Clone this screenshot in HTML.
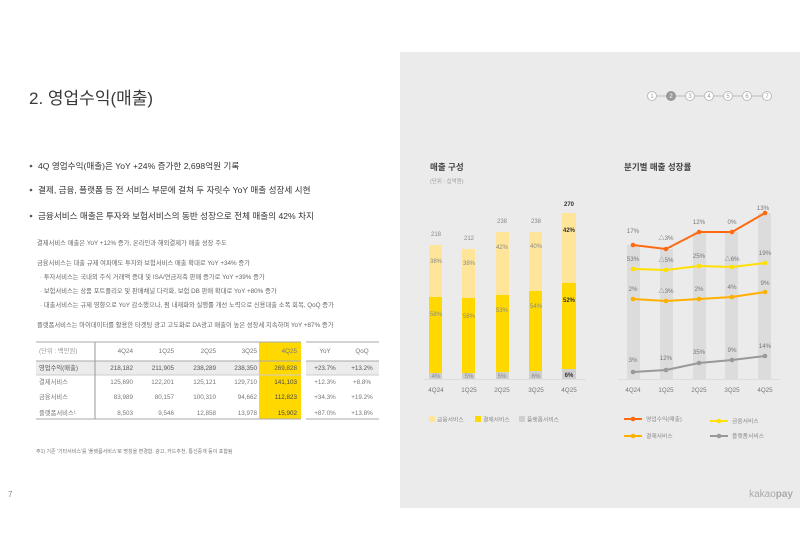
<!DOCTYPE html>
<html><head><meta charset="utf-8"><style>
html,body{margin:0;padding:0;background:#fff}
svg{display:block}
text{font-family:"Liberation Sans","Noto Sans CJK KR",sans-serif}
</style></head><body>
<svg width="800" height="560" viewBox="0 0 800 560" xmlns="http://www.w3.org/2000/svg">
<rect x="400" y="52" width="400" height="456" fill="#ebebeb"/>
<text x="29" y="104" font-size="17" fill="#3a3a3a">2. 영업수익(매출)</text>
<g stroke="#bbb" stroke-width="1">
<line x1="652" y1="96" x2="767" y2="96"/>
</g>
<g font-size="6" text-anchor="middle" fill="#999">
<circle cx="652" cy="96" r="4.5" fill="#fff" stroke="#bbb"/><text x="652" y="98.2">1</text>
<circle cx="671" cy="96" r="4.5" fill="#999" stroke="#999"/><text x="671" y="98.2" fill="#fff">2</text>
<circle cx="690" cy="96" r="4.5" fill="#fff" stroke="#bbb"/><text x="690" y="98.2">3</text>
<circle cx="709" cy="96" r="4.5" fill="#fff" stroke="#bbb"/><text x="709" y="98.2">4</text>
<circle cx="728" cy="96" r="4.5" fill="#fff" stroke="#bbb"/><text x="728" y="98.2">5</text>
<circle cx="747" cy="96" r="4.5" fill="#fff" stroke="#bbb"/><text x="747" y="98.2">6</text>
<circle cx="767" cy="96" r="4.5" fill="#fff" stroke="#bbb"/><text x="767" y="98.2">7</text>
</g>
<g font-size="8.6" fill="#333">
<circle cx="31" cy="166" r="1.3" fill="#555"/><text x="38" y="169">4Q 영업수익(매출)은 YoY +24% 증가한 2,698억원 기록</text>
<circle cx="31" cy="190" r="1.3" fill="#555"/><text x="38" y="193">결제, 금융, 플랫폼 등 전 서비스 부문에 걸쳐 두 자릿수 YoY 매출 성장세 시현</text>
<circle cx="31" cy="216" r="1.3" fill="#555"/><text x="38" y="219">금융서비스 매출은 투자와 보험서비스의 동반 성장으로 전체 매출의 42% 차지</text>
</g>
<g font-size="6.3" fill="#666">
<text x="37" y="245">결제서비스 매출은 YoY +12% 증가, 온라인과 해외결제가 매출 성장 주도</text>
<text x="37" y="265">금융서비스는 대출 규제 여파에도 투자와 보험서비스 매출 확대로 YoY +34% 증가</text>
<text x="40" y="279">· 투자서비스는 국내외 주식 거래액 증대 및 ISA/연금저축 판매 증가로 YoY +39% 증가</text>
<text x="40" y="293">· 보험서비스는 상품 포트폴리오 및 판매채널 다각화, 보험 DB 판매 확대로 YoY +80% 증가</text>
<text x="40" y="307">· 대출서비스는 규제 영향으로 YoY 감소했으나, 펌 내재화와 실행률 개선 노력으로 신용대출 소폭 회복, QoQ 증가</text>
<text x="37" y="327">플랫폼서비스는 마이데이터를 활용한 타겟팅 광고 고도화로 DA광고 매출이 높은 성장세 지속하며 YoY +87% 증가</text>
</g>
<rect x="36" y="361" width="265" height="14" fill="#ececec"/>
<rect x="306" y="361" width="73" height="14" fill="#ececec"/>
<rect x="259" y="342" width="42" height="77" fill="#ffd800"/>
<g stroke="#aaa" stroke-width="1">
<line x1="36" y1="342" x2="301" y2="342"/><line x1="306" y1="342" x2="379" y2="342"/>
<line x1="36" y1="361" x2="301" y2="361"/><line x1="306" y1="361" x2="379" y2="361"/>
<line x1="36" y1="375" x2="301" y2="375" stroke="#ccc"/><line x1="306" y1="375" x2="379" y2="375" stroke="#ccc"/>
<line x1="36" y1="419" x2="301" y2="419"/><line x1="306" y1="419" x2="379" y2="419"/>
<line x1="95" y1="342" x2="95" y2="419" stroke="#999"/>
</g>
<g font-size="6.3" fill="#777">
<text x="39" y="353" fill="#999">(단위 : 백만원)</text>
<text x="39" y="370" fill="#555">영업수익(매출)</text>
<text x="39" y="384">결제서비스</text>
<text x="39" y="399">금융서비스</text>
<text x="39" y="415">플랫폼서비스¹</text>
</g>
<g font-size="6.3" fill="#777" text-anchor="end">
<text x="133" y="353">4Q24</text><text x="174" y="353">1Q25</text><text x="216" y="353">2Q25</text><text x="257" y="353">3Q25</text><text x="297" y="353">4Q25</text>
<g fill="#555"><text x="133" y="370">218,182</text><text x="174" y="370">211,905</text><text x="216" y="370">238,289</text><text x="257" y="370">238,350</text><text x="297" y="370">269,828</text></g>
<text x="133" y="384">125,690</text><text x="174" y="384">122,201</text><text x="216" y="384">125,121</text><text x="257" y="384">129,710</text><text x="297" y="384" fill="#444">141,103</text>
<text x="133" y="399">83,989</text><text x="174" y="399">80,157</text><text x="216" y="399">100,310</text><text x="257" y="399">94,662</text><text x="297" y="399" fill="#444">112,823</text>
<text x="133" y="415">8,503</text><text x="174" y="415">9,546</text><text x="216" y="415">12,858</text><text x="257" y="415">13,978</text><text x="297" y="415" fill="#444">15,902</text>
</g>
<g font-size="6.3" fill="#777" text-anchor="middle">
<text x="325" y="353">YoY</text><text x="362" y="353">QoQ</text>
<text x="325" y="370" fill="#555">+23.7%</text><text x="362" y="370" fill="#555">+13.2%</text>
<text x="325" y="384">+12.3%</text><text x="362" y="384">+8.8%</text>
<text x="325" y="399">+34.3%</text><text x="362" y="399">+19.2%</text>
<text x="325" y="415">+87.0%</text><text x="362" y="415">+13.8%</text>
</g>
<text x="36" y="453" font-size="5" fill="#777">주1) 기존 '기타서비스'를 '플랫폼서비스'로 명칭을 변경함. 광고, 카드추천, 통신중개 등이 포함됨</text>
<text x="8" y="497" font-size="8" fill="#888">7</text>
<text x="793" y="497" font-size="10" fill="#aaa" text-anchor="end">kakao<tspan font-weight="bold">pay</tspan></text>

<text x="430" y="170" font-size="8.5" fill="#444" font-weight="bold">매출 구성</text>
<text x="430" y="183" font-size="5.5" fill="#999">(단위 : 십억원)</text>
<g>
<rect x="429" y="245" width="13" height="52" fill="#ffe59a"/><rect x="429" y="297" width="13" height="76" fill="#ffd800"/><rect x="429" y="373" width="13" height="6" fill="#cfcfcf"/>
<rect x="462" y="249" width="13" height="49" fill="#ffe59a"/><rect x="462" y="298" width="13" height="75" fill="#ffd800"/><rect x="462" y="373" width="13" height="6" fill="#cfcfcf"/>
<rect x="496" y="232" width="13" height="63" fill="#ffe59a"/><rect x="496" y="295" width="13" height="77" fill="#ffd800"/><rect x="496" y="372" width="13" height="7" fill="#cfcfcf"/>
<rect x="529" y="232" width="13" height="59" fill="#ffe59a"/><rect x="529" y="291" width="13" height="80" fill="#ffd800"/><rect x="529" y="371" width="13" height="8" fill="#cfcfcf"/>
<rect x="562" y="213" width="14" height="70" fill="#ffe59a"/><rect x="562" y="283" width="14" height="86" fill="#ffd800"/><rect x="562" y="369" width="14" height="10" fill="#cfcfcf"/>
</g>
<line x1="424" y1="379.5" x2="586" y2="379.5" stroke="#ddd"/>
<g font-size="6" fill="#888" text-anchor="middle">
<text x="436" y="236">218</text><text x="469" y="240">212</text><text x="502" y="223">238</text><text x="536" y="223">238</text>
<text x="569" y="206" font-weight="bold" fill="#333">270</text>
<text x="436" y="263">38%</text><text x="469" y="265">38%</text><text x="502" y="249">42%</text><text x="536" y="248">40%</text>
<text x="569" y="232" font-weight="bold" fill="#333">42%</text>
<text x="436" y="316">58%</text><text x="469" y="318">58%</text><text x="502" y="312">53%</text><text x="536" y="308">54%</text>
<text x="569" y="302" font-weight="bold" fill="#333">52%</text>
<text x="436" y="378">4%</text><text x="469" y="378">5%</text><text x="502" y="378">5%</text><text x="536" y="378">6%</text>
<text x="569" y="377" font-weight="bold" fill="#333">6%</text>
</g>
<g font-size="6.3" fill="#777" text-anchor="middle">
<text x="436" y="392">4Q24</text><text x="469" y="392">1Q25</text><text x="502" y="392">2Q25</text><text x="536" y="392">3Q25</text><text x="569" y="392">4Q25</text>
</g>
<g font-size="5.8" fill="#888">
<rect x="429" y="416" width="6" height="6" fill="#ffe59a"/><text x="437" y="421.5">금융서비스</text>
<rect x="475" y="416" width="6" height="6" fill="#ffd800"/><text x="483" y="421.5">결제서비스</text>
<rect x="519" y="416" width="6" height="6" fill="#cfcfcf"/><text x="527" y="421.5">플랫폼서비스</text>
</g>

<text x="624" y="170" font-size="8.5" fill="#444" font-weight="bold">분기별 매출 성장률</text>
<g fill="#dcdcdc">
<rect x="627" y="245" width="13" height="134"/><rect x="660" y="249" width="13" height="130"/><rect x="693" y="232" width="13" height="147"/><rect x="725" y="232" width="13" height="147"/><rect x="758" y="213" width="13" height="166"/>
</g>
<line x1="618" y1="379.5" x2="780" y2="379.5" stroke="#ddd"/>
<g fill="none" stroke-width="2">
<polyline points="633,245 666,249 699,232 732,232 765,213" stroke="#ff6a10"/>
<polyline points="633,269 666,270 699,266 732,267 765,263" stroke="#ffe000"/>
<polyline points="633,299 666,301 699,299 732,297 765,292" stroke="#ffb000"/>
<polyline points="633,372 666,370 699,363 732,360 765,356" stroke="#999"/>
</g>
<g>
<g fill="#ff6a10"><circle cx="633" cy="245" r="2.3"/><circle cx="666" cy="249" r="2.3"/><circle cx="699" cy="232" r="2.3"/><circle cx="732" cy="232" r="2.3"/><circle cx="765" cy="213" r="2.3"/></g>
<g fill="#ffe000"><circle cx="633" cy="269" r="2.3"/><circle cx="666" cy="270" r="2.3"/><circle cx="699" cy="266" r="2.3"/><circle cx="732" cy="267" r="2.3"/><circle cx="765" cy="263" r="2.3"/></g>
<g fill="#ffb000"><circle cx="633" cy="299" r="2.3"/><circle cx="666" cy="301" r="2.3"/><circle cx="699" cy="299" r="2.3"/><circle cx="732" cy="297" r="2.3"/><circle cx="765" cy="292" r="2.3"/></g>
<g fill="#999"><circle cx="633" cy="372" r="2.3"/><circle cx="666" cy="370" r="2.3"/><circle cx="699" cy="363" r="2.3"/><circle cx="732" cy="360" r="2.3"/><circle cx="765" cy="356" r="2.3"/></g>
</g>
<g font-size="6.2" fill="#777" text-anchor="middle">
<text x="633" y="233">17%</text><text x="666" y="240">△3%</text><text x="699" y="224">12%</text><text x="732" y="224">0%</text><text x="763" y="210">13%</text>
<text x="633" y="261">53%</text><text x="666" y="262">△5%</text><text x="699" y="258">25%</text><text x="732" y="261">△6%</text><text x="765" y="255">19%</text>
<text x="633" y="291">2%</text><text x="666" y="293">△3%</text><text x="699" y="291">2%</text><text x="732" y="289">4%</text><text x="765" y="285">9%</text>
<text x="633" y="362">3%</text><text x="666" y="360">12%</text><text x="699" y="354">35%</text><text x="732" y="352">9%</text><text x="765" y="348">14%</text>
<text x="633" y="392">4Q24</text><text x="666" y="392">1Q25</text><text x="699" y="392">2Q25</text><text x="732" y="392">3Q25</text><text x="765" y="392">4Q25</text>
</g>
<g font-size="5.8" fill="#888">
<line x1="624" y1="419" x2="642" y2="419" stroke="#ff6a10" stroke-width="2"/><circle cx="633" cy="419" r="2.3" fill="#ff6a10"/><text x="646" y="421">영업수익(매출)</text>
<line x1="710" y1="421" x2="728" y2="421" stroke="#ffe000" stroke-width="2"/><circle cx="719" cy="421" r="2.3" fill="#ffe000"/><text x="732" y="423">금융서비스</text>
<line x1="624" y1="436" x2="642" y2="436" stroke="#ffb000" stroke-width="2"/><circle cx="633" cy="436" r="2.3" fill="#ffb000"/><text x="646" y="438">결제서비스</text>
<line x1="710" y1="436" x2="728" y2="436" stroke="#999" stroke-width="2"/><circle cx="719" cy="436" r="2.3" fill="#999"/><text x="732" y="438">플랫폼서비스</text>
</g>
</svg>
</body></html>
